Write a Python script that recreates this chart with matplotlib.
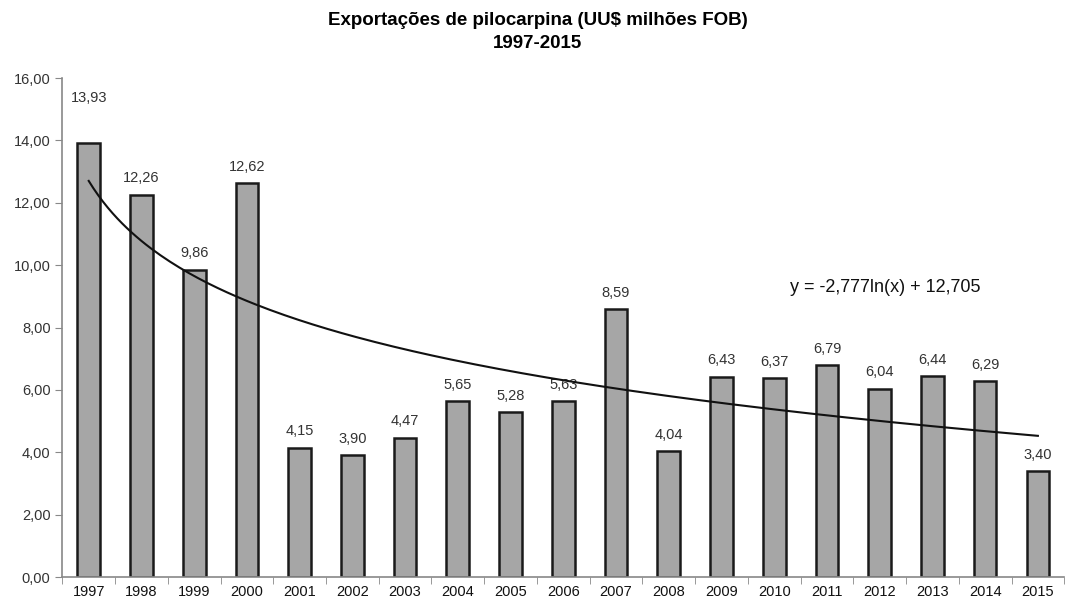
import numpy as np
import matplotlib.pyplot as plt

# Exportações de pilocarpina, US$ milhões FOB
years = ['1997', '1998', '1999', '2000', '2001', '2002', '2003', '2004', '2005', '2006',
         '2007', '2008', '2009', '2010', '2011', '2012', '2013', '2014', '2015']
values = [13.93, 12.26, 9.86, 12.62, 4.15, 3.90, 4.47, 5.65, 5.28, 5.63,
          8.59, 4.04, 6.43, 6.37, 6.79, 6.04, 6.44, 6.29, 3.40]
y_ticks = [0, 2, 4, 6, 8, 10, 12, 14, 16]
equation = 'y = -2,777ln(x) + 12,705'

plt.rcParams['font.family'] = ['Liberation Sans', 'DejaVu Sans']

fig = plt.figure(figsize=(10.75, 6.1), dpi=100)
ax = fig.add_axes([0.058, 0.054, 0.932, 0.818])

pos = np.arange(len(years))
ax.bar(pos, values, width=0.43, color='#a6a6a6', edgecolor='#1a1a1a', linewidth=1.8, zorder=2)

for p, v in zip(pos, values):
    off = 1.2 if p == 0 else 0.3  # first label sits higher, clear of the trendline
    ax.text(p, v + off, f'{v:.2f}'.replace('.', ','), ha='center', va='bottom',
            fontsize=10.5, color='#333333', zorder=1)

# logarithmic trendline fitted on the data
xn = pos + 1
b, a = np.polyfit(np.log(xn), values, 1)
xs = np.linspace(1, len(years), 200)
ax.plot(xs - 1, b * np.log(xs) + a, color='#111111', linewidth=1.5, zorder=3)
ax.text(13.3, 9.3, equation, fontsize=13, color='#111111', va='center')

ax.set_xlim(-0.5, len(years) - 0.5)
ax.set_ylim(0, 16)
ax.set_yticks(y_ticks)
ax.set_yticklabels([f'{t:.2f}'.replace('.', ',') for t in y_ticks], fontsize=10.5, color='#333333')
ax.set_xticks(pos)
ax.set_xticklabels(years, fontsize=10.5, color='#111111')
ax.tick_params(axis='x', length=0, pad=6)
ax.set_xticks(np.arange(len(years) + 1) - 0.5, minor=True)
ax.tick_params(axis='x', which='minor', length=5, color='#888888', direction='out')
ax.tick_params(axis='y', length=5, color='#888888', direction='out')

for s in ['top', 'right']:
    ax.spines[s].set_visible(False)
for s in ['left', 'bottom']:
    ax.spines[s].set_color('#888888')
    ax.spines[s].set_linewidth(1.2)

fig.text(0.5, 0.98, 'Exportações de pilocarpina (UU$ milhões FOB)\n1997-2015',
         ha='center', va='top', fontsize=13.5, fontweight='bold', linespacing=1.45)

fig.savefig('out.png', dpi=100)
